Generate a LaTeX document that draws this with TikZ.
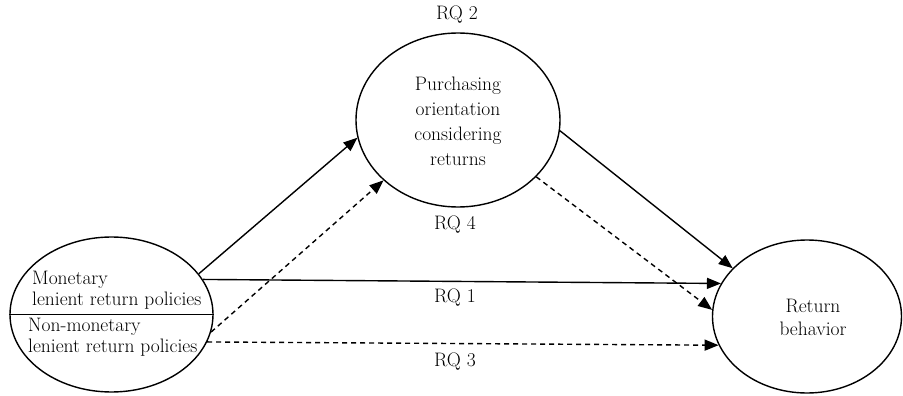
\documentclass[tikz,border=0pt]{standalone}
\usetikzlibrary{shapes.geometric,arrows.meta}
\begin{document}
\begin{tikzpicture}[x=1pt,y=-1pt,
  bubble/.style={draw, line width=1.4pt, ellipse, inner sep=0pt},
  lbl/.style={font=\fontsize{19.5}{21}\selectfont, inner sep=0pt},
  link/.style={line width=1.4pt, -{Triangle[length=14pt,width=11pt]}},
  dlink/.style={link, dash pattern=on 5pt off 4pt}]
\useasboundingbox (0,0) rectangle (903,396);
\node[bubble, minimum width=203pt, minimum height=155pt] (L) at (111.5,314.5) {};
\node[bubble, minimum width=204pt, minimum height=174pt] (M) at (458,120) {};
\node[bubble, minimum width=189pt, minimum height=153pt] (R) at (807,316.5) {};
\draw[line width=0.8pt] (L.west) -- (L.east);
\node[lbl, anchor=west, align=left] (Lt) at (32,290) {Monetary\\lenient return policies};
\node[lbl, anchor=west, align=left] (Lb) at (28,337) {Non-monetary\\lenient return policies};
\node[lbl, align=center, font=\fontsize{19.5}{25}\selectfont] (Mt) at (458,121) {Purchasing\\orientation\\considering\\returns};
\node[lbl, align=center, font=\fontsize{19.5}{23}\selectfont] (Rt) at (813,317) {Return\\behavior};
\draw[link] (L.25) -- (M.190);
\draw[dlink] (L.-10) -- (M.219);
\draw[link] (L.21) -- (R.159);
\draw[dlink] (L.-16) -- (R.198);
\draw[link] (M.-6) -- (R.147);
\draw[dlink] (M.-36) -- (R.176);
\node[lbl] (rq2) at (457,15) {RQ 2};
\node[lbl] (rq4) at (455,225) {RQ 4};
\node[lbl] (rq1) at (455,298) {RQ 1};
\node[lbl] (rq3) at (455,362) {RQ 3};
\end{tikzpicture}
\end{document}
